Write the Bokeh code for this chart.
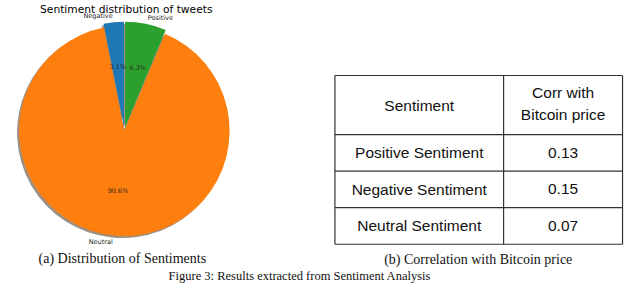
import math
from bokeh.plotting import figure
from bokeh.models import Range1d, ColumnDataSource
from bokeh.core.properties import value
from bokeh.embed import file_html
from bokeh.resources import INLINE

# ---- data ----
labels = ["Negative", "Neutral", "Positive"]
shares = [3.1, 90.6, 6.3]
colors = ["#1f77b4", "#ff7f0e", "#2ca02c"]
explode = [4, 0, 4]

pie_title = "Sentiment distribution of tweets"
table_header = ["Sentiment", "Corr with", "Bitcoin price"]
sentiments = ["Positive Sentiment", "Negative Sentiment", "Neutral Sentiment"]
corr = [0.13, 0.15, 0.07]
caption_a = "(a) Distribution of Sentiments"
caption_b = "(b) Correlation with Bitcoin price"
fig_caption = "Figure 3: Results extracted from Sentiment Analysis"

# ---- figure ----
W, H = 624, 285
p = figure(width=W, height=H, x_range=Range1d(0, 640), y_range=Range1d(304, 0),
           output_backend="svg", toolbar_location=None, min_border=0,
           x_axis_location=None, y_axis_location=None)
p.grid.visible = False
p.outline_line_color = None
p.background_fill_color = "white"
p.border_fill_color = "white"

# ---- pie ----
cx, cy, r = 127, 139, 108
start = 90.0
wx, wy, a0s, a1s = [], [], [], []
lab_x, lab_y, lab_align = [], [], []
pct_x, pct_y, pct_txt = [], [], []
for lab, s, e in zip(labels, shares, explode):
    a0 = start
    a1 = start + s / 100.0 * 360.0
    mid = math.radians((a0 + a1) / 2)
    ox = cx + e * math.cos(mid)
    oy = cy - e * math.sin(mid)
    wx.append(ox); wy.append(oy); a0s.append(a0); a1s.append(a1)
    lx = cx + (1.1 * r + e) * math.cos(mid)
    ly = cy - (1.1 * r + e) * math.sin(mid)
    lab_x.append(lx); lab_y.append(ly)
    lab_align.append("right" if math.cos(mid) < 0 else "left")
    pct_x.append(cx + (0.6 * r + e) * math.cos(mid))
    pct_y.append(cy - (0.6 * r + e) * math.sin(mid))
    pct_txt.append(f"{s:.1f}%")
    start = a1

pie = ColumnDataSource(dict(x=wx, y=wy, sx=[v - 2 for v in wx], sy=[v + 2 for v in wy],
                            a0=a0s, a1=a1s, color=colors,
                            lx=lab_x, ly=lab_y, lab=labels, align=lab_align,
                            px=pct_x, py=pct_y, pct=pct_txt))
p.wedge(x="sx", y="sy", radius=r, start_angle="a0", end_angle="a1",
        start_angle_units="deg", end_angle_units="deg",
        direction="anticlock", fill_color="#9c9085", line_color=None, source=pie)
p.wedge(x="x", y="y", radius=r, start_angle="a0", end_angle="a1",
        start_angle_units="deg", end_angle_units="deg",
        direction="anticlock", fill_color="color", line_color=None, source=pie)
p.text(x="lx", y="ly", text="lab", text_align="align", text_baseline="middle",
       text_font=value("DejaVu Sans"), text_font_size="6.5px", text_color="#222222", source=pie)
p.text(x="px", y="py", text="pct", text_align="center", text_baseline="middle",
       text_font=value("DejaVu Serif"), text_font_size="6.5px", text_color="#222222", source=pie)
p.text(x=[cx + 2], y=[10], text=[pie_title], text_align="center", text_baseline="middle",
       text_font=value("DejaVu Sans"), text_font_size="10.7px", text_color="black")

# ---- table ----
tl, tr, tc = 343, 638, 516
t_top, head_bot, row_h = 80, 143, 39
n = len(sentiments)
row_edges = [t_top, head_bot] + [head_bot + row_h * (i + 1) for i in range(n)]
t_bot = row_edges[-1]
p.multi_line(xs=[[tl, tr] for _ in row_edges] + [[tl, tl], [tc, tc], [tr, tr]],
             ys=[[y, y] for y in row_edges] + [[t_top, t_bot]] * 3,
             line_color="#333333", line_width=1.2)
c1 = (tl + tc) / 2
c2 = (tc + tr) / 2
p.text(x=[c1, c2, c2], y=[(t_top + head_bot) / 2, 98, 122], text=table_header,
       text_align="center", text_baseline="middle",
       text_font=value("Liberation Sans"), text_font_size="15.5px", text_color="#111111")
row_mid = [(row_edges[i + 1] + row_edges[i + 2]) / 2 for i in range(n)]
p.text(x=[c1] * n, y=row_mid, text=sentiments, text_align="center", text_baseline="middle",
       text_font=value("Liberation Sans"), text_font_size="15.5px", text_color="#111111")
p.text(x=[c2] * n, y=row_mid, text=[f"{v:.2f}" for v in corr], text_align="center",
       text_baseline="middle", text_font=value("Liberation Sans"), text_font_size="15.5px",
       text_color="#111111")

# ---- captions ----
p.text(x=[125, 490], y=[275, 276], text=[caption_a, caption_b],
       text_align="center", text_baseline="middle",
       text_font=value("Liberation Serif"), text_font_size="14px", text_color="#111111")
p.text(x=[307], y=[294], text=[fig_caption],
       text_align="center", text_baseline="middle",
       text_font=value("Liberation Serif"), text_font_size="12.5px", text_color="#111111")

open("out.html", "w").write(file_html(p, INLINE))
